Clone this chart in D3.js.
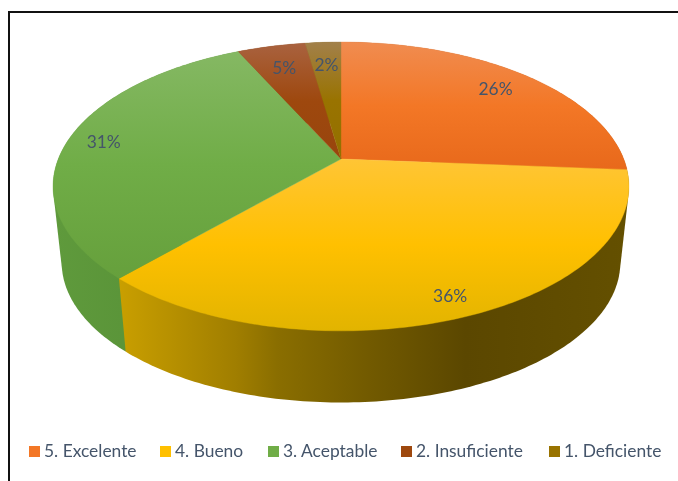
<!DOCTYPE html>
<html><head><meta charset="utf-8">
<script src="https://cdn.jsdelivr.net/npm/d3@7/dist/d3.min.js"></script>
<style>html,body{margin:0;background:#fff}svg{display:block}</style></head>
<body><svg id="c" width="678" height="481"></svg>
<script>
const categories = ["5. Excelente","4. Bueno","3. Aceptable","2. Insuficiente","1. Deficiente"];
const values = [26.2,35.6,31.2,4.6,2.4];
const colors = ["#F37726","#FFC000","#70AD47","#9E480E","#997300"];
const topColors = ["#F08C50","#FFC535","#85B863","#A9623F","#A2804A"];
const bottomColors = ["#E8691B","#E2B400","#66A03C","#98450D","#937000"];
const sideStops = [
  [["0","#b86020"],["1","#b86020"]],
  [["0","#c99f00"],["0.23","#a07e00"],["0.31","#8a6e00"],["0.49","#725a00"],["0.68","#5b4700"],["1","#645000"]],
  [["0","#5f9a3c"],["1","#4d8530"]],
  [["0","#7a380b"],["1","#7a380b"]],
  [["0","#705500"],["1","#705500"]]
];
const labelRadii = [0.825,0.885,0.87,0.79,0.786];

const svg = d3.select("#c");
const W=678,H=481;
const cx=341, k=0.19, B=282.7, A=139.2, y0=159;
const r2=0.97, yB=402.5, A2=A*r2, B2=B*r2, y2=yB-A2/(1-k);
const xScale=d3.scaleLinear().domain([-1,1]).range([cx-B,cx+B]);
const yScale=d3.scaleLinear().domain([-1,1]).range([y0-A,y0+A]);
const xScale2=d3.scaleLinear().domain([-1,1]).range([cx-B2,cx+B2]);
const yScale2=d3.scaleLinear().domain([-1,1]).range([y2-A2,y2+A2]);
function proj(a,r,xs,ys){const u=r*Math.sin(a),v=-r*Math.cos(a),w=1-k*v;return [xs(u/w),ys(v/w)];}
const pie=d3.pie().sort(null).value(d=>d);
const arcs=pie(values);
const line=d3.line();
function rim(a0,a1,xs,ys){const n=Math.max(2,Math.ceil((a1-a0)*60));return d3.range(n+1).map(i=>proj(a0+(a1-a0)*i/n,1,xs,ys));}
const tip=[xScale(0),yScale(0)];

const defs=svg.append("defs");
arcs.forEach((d,i)=>{
  const pts=rim(d.startAngle,d.endAngle,xScale,yScale).concat([tip]);
  const ye=d3.extent(pts,p=>p[1]), xe=d3.extent(pts,p=>p[0]);
  const g=defs.append("linearGradient").attr("id","t"+i).attr("gradientUnits","userSpaceOnUse")
    .attr("x1",0).attr("x2",0).attr("y1",ye[0]).attr("y2",ye[1]);
  [[0,topColors[i]],[0.5,colors[i]],[1,bottomColors[i]]].forEach(s=>g.append("stop").attr("offset",s[0]).attr("stop-color",s[1]));
  const sg=defs.append("linearGradient").attr("id","s"+i).attr("gradientUnits","userSpaceOnUse")
    .attr("x1",xe[0]).attr("x2",xe[1]).attr("y1",0).attr("y2",0);
  sideStops[i].forEach(s=>sg.append("stop").attr("offset",s[0]).attr("stop-color",s[1]));
});
defs.append("filter").attr("id","soft").attr("x","-5%").attr("y","-20%").attr("width","110%").attr("height","140%")
  .append("feGaussianBlur").attr("stdDeviation",0.3);

// frame
svg.append("path").attr("d",line([[9,H],[9,12],[W,12]])).attr("fill","none").attr("stroke","#111").attr("stroke-width",2);

// side walls, painted far to near; hull bridges the top and bottom rims
[0,4,3,2,1].forEach(i=>{
  const d=arcs[i];
  const a=rim(d.startAngle,d.endAngle,xScale,yScale);
  const b=rim(d.startAngle,d.endAngle,xScale2,yScale2);
  const hull=d3.polygonHull(a.concat(b));
  svg.append("path").attr("d",line(hull)+"Z").attr("fill",`url(#s${i})`);
});
// top face
arcs.forEach((d,i)=>{
  const pts=[tip].concat(rim(d.startAngle,d.endAngle,xScale,yScale));
  svg.append("path").attr("d",line(pts)+"Z").attr("fill",`url(#t${i})`).attr("stroke",`url(#t${i})`).attr("stroke-width",0.4);
});
// value labels
const txt=svg.append("g").attr("filter","url(#soft)").attr("font-family","Lato,'Open Sans',sans-serif").attr("fill","#44546A");
arcs.forEach((d,i)=>{
  const m=(d.startAngle+d.endAngle)/2;
  const p=proj(m,labelRadii[i],xScale,yScale);
  txt.append("text").attr("x",p[0]).attr("y",p[1]+7).attr("text-anchor","middle")
    .attr("font-size",17.4).text(Math.round(values[i])+"%");
});
// legend
const legendX=[29,160,268,401,549];
categories.forEach((c,i)=>{
  svg.append("rect").attr("x",legendX[i]).attr("y",446).attr("width",11).attr("height",11).attr("fill",colors[i]);
  txt.append("text").attr("x",legendX[i]+15).attr("y",457).attr("font-size",17.4).text(c);
});
</script></body></html>
